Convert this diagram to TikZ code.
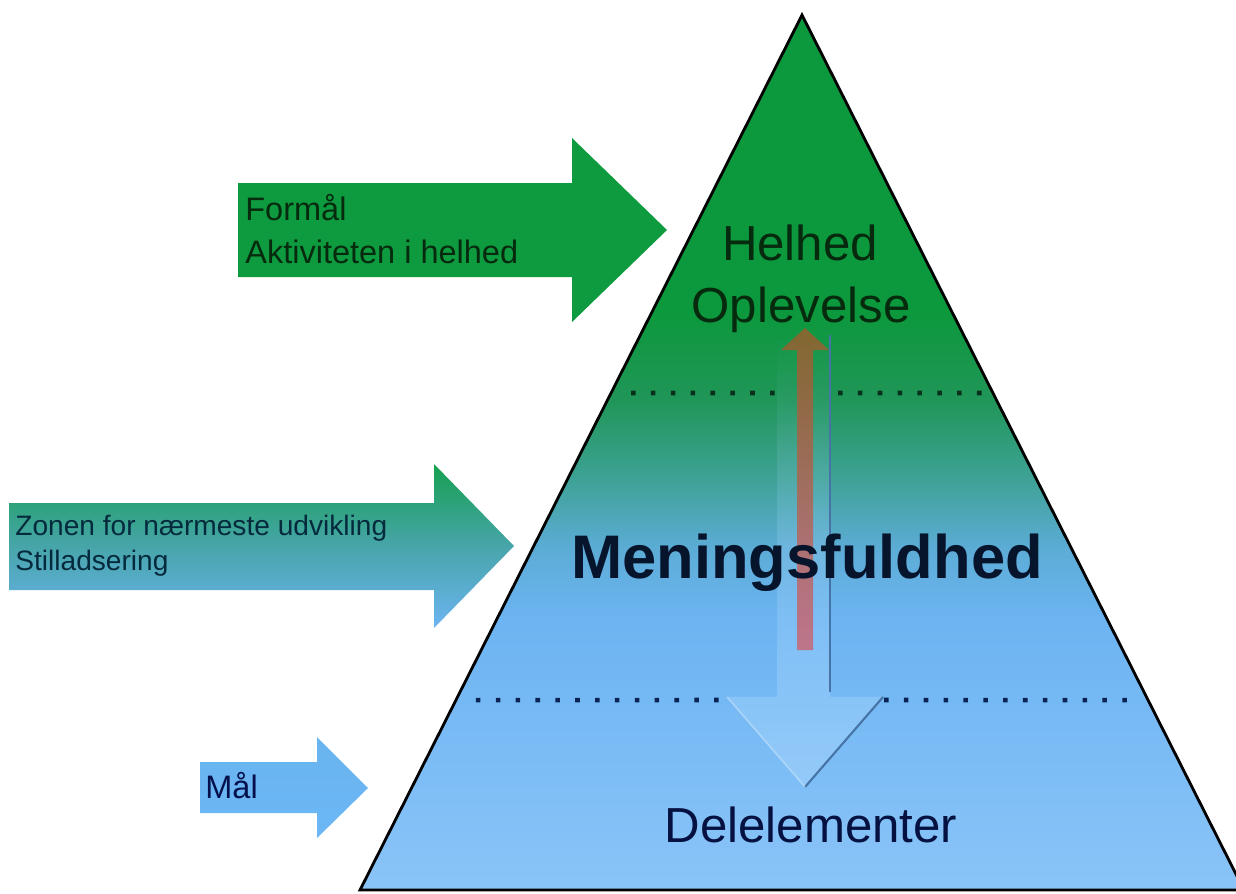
\documentclass[tikz,border=0pt]{standalone}
\usepackage{fontspec}
\setmainfont{Liberation Sans}
\usetikzlibrary{calc,fadings}

% Colours of the pyramid and the arrows
\definecolor{pyrgreen}{RGB}{12,152,60}
\definecolor{pyrmint}{RGB}{32,150,88}
\definecolor{pyrteal}{RGB}{62,162,150}
\definecolor{pyrsky}{RGB}{92,172,214}
\definecolor{pyrblue}{RGB}{108,180,242}
\definecolor{pyrlight}{RGB}{138,196,248}
\definecolor{aimgreen}{RGB}{14,154,62}
\definecolor{zonegreen}{RGB}{22,160,80}
\definecolor{zoneblue}{RGB}{108,180,242}
\definecolor{goalblue}{RGB}{108,182,246}
\definecolor{downblue}{RGB}{168,214,252}
\definecolor{downedge}{RGB}{70,116,166}
\definecolor{upbrown}{RGB}{150,96,46}
\definecolor{uprose}{RGB}{200,104,120}
\definecolor{txtgreen}{RGB}{6,42,14}
\definecolor{txtnavy}{RGB}{6,20,44}
\definecolor{dotgreen}{RGB}{8,48,28}
\definecolor{dotnavy}{RGB}{10,34,84}

\pgfdeclareverticalshading{pyramid}{100bp}{color(0bp)=(pyrlight); color(25bp)=(pyrlight); color(40.5bp)=(pyrblue); color(44.5bp)=(pyrsky); color(48.5bp)=(pyrteal); color(53bp)=(pyrmint); color(58bp)=(pyrgreen); color(100bp)=(pyrgreen)}

\tikzset{
  dotrow/.style={line width=2.6pt, dash pattern=on 2.6pt off 8.7pt},
  sidetext/.style={anchor=base west, inner sep=0pt, font=\fontsize{18.5}{22}\selectfont},
  zonetext/.style={anchor=base west, inner sep=0pt, font=\fontsize{16}{19}\selectfont, text=txtnavy!80!teal},
  pyrtext/.style={anchor=base, inner sep=0pt, font=\fontsize{28}{34}\selectfont}
}

\begin{document}
\begin{tikzpicture}[x=0.02cm, y=-0.02cm]

\useasboundingbox (0,0) rectangle (1236,893);

% Vertices of the pyramid
\coordinate (A) at (802, 15);
\coordinate (L) at (360, 890);
\coordinate (R) at (1244, 890);

% Draw the pyramid
\begin{scope}
\clip (0,0) rectangle (1236,893);
\shade[shading=pyramid] (A) -- (L) -- (R) -- cycle;
\draw[line width=1.6pt, line join=miter] (A) -- (L) -- (R) -- cycle;
\end{scope}

% Upper dotted line (ends on the sides of the pyramid)
\coordinate (U1) at ($(A)!0.432!(L)$);
\coordinate (U2) at ($(A)!0.432!(R)$);
\draw[dotrow, dotgreen] ($(U1)+(20,0)$) -- (777, 393);
\draw[dotrow, dotgreen] (838, 393) -- ($(U2)+(-6,0)$);

% Lower dotted line
\coordinate (D1) at ($(A)!0.783!(L)$);
\coordinate (D2) at ($(A)!0.783!(R)$);
\draw[dotrow, dotnavy] ($(D1)+(20,0)$) -- (728, 700);
\draw[dotrow, dotnavy] (884, 700) -- ($(D2)+(-8,0)$);

% Pale arrow going down
\coordinate (DT) at (805, 787);
\fill[downblue, fill opacity=0.5, path fading=north]
  (777, 335) -- (830, 335) -- (830, 697) -- (883, 697) -- (DT) -- (727, 697) -- (777, 697) -- cycle;
\draw[downedge, line width=1pt] (830, 335) -- (830, 692);
\draw[downedge, line width=1.2pt] (883, 697) -- (DT);
\draw[white, opacity=0.3, line width=1pt] (727, 697) -- (DT);

% Arrow going up
\coordinate (UT) at (805, 328);
\shade[top color=upbrown, bottom color=uprose, opacity=0.85]
  (797, 650) -- (797, 350) -- (781, 350) -- (UT) -- (829, 350) -- (813, 350) -- (813, 650) -- cycle;

% Arrow: Formaal
\fill[aimgreen] (238, 183) -- (572, 183) -- (572, 138) -- (667, 230) -- (572, 322) -- (572, 277) -- (238, 277) -- cycle;

% Arrow: Zonen
\shade[top color=zonegreen, bottom color=zoneblue, middle color=pyrteal!70!pyrsky]
  (9, 503) -- (434, 503) -- (434, 464) -- (514, 546) -- (434, 628) -- (434, 590) -- (9, 590) -- cycle;

% Arrow: Maal
\shade[top color=goalblue!92!pyrteal, bottom color=goalblue]
  (200, 762) -- (317, 762) -- (317, 737) -- (368, 788) -- (317, 838) -- (317, 813) -- (200, 813) -- cycle;

% Labels
\node[sidetext, text=txtgreen] (formaal) at (245, 220) {Formål};
\node[sidetext, text=txtgreen] (helhedact) at (245, 263) {Aktiviteten i helhed};
\node[zonetext] (zonen) at (15, 535) {Zonen for nærmeste udvikling};
\node[zonetext] (stillads) at (15, 570) {Stilladsering};
\node[sidetext, text=txtnavy!85!blue] (maal) at (205, 798) {Mål};

\node[pyrtext, text=txtgreen] (helhed) at (800, 260) {Helhed};
\node[pyrtext, text=txtgreen] (oplev) at (801, 322) {Oplevelse};
\node[anchor=base, inner sep=0pt, font=\fontsize{35}{40}\selectfont\bfseries, text=txtnavy] (mening) at (807, 578) {Meningsfuldhed};
\node[pyrtext, text=txtnavy!90!blue] (dele) at (811, 842) {Delelementer};

\end{tikzpicture}
\end{document}
